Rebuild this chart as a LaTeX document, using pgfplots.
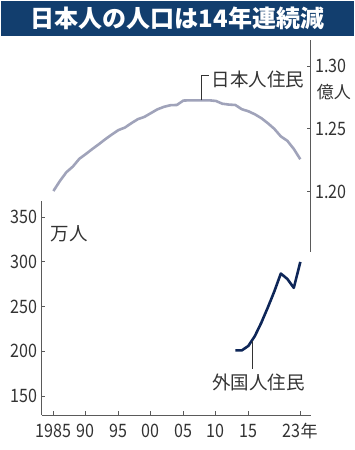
\documentclass[border=0pt]{standalone}
\usepackage{pgfplots}
\pgfplotsset{compat=1.18}
\usepackage{fontspec}
\setmainfont{Noto Sans CJK JP}
\newfontfamily\numf[FakeStretch=0.87]{Noto Sans CJK JP}
\definecolor{navy}{RGB}{18,62,110}
\definecolor{jline}{RGB}{160,163,186}
\definecolor{fline}{RGB}{14,38,88}
\definecolor{txt}{RGB}{51,51,51}
\definecolor{spine}{RGB}{90,90,90}
\pgfplotstableread{
year val
1985 1.2005
1986 1.2085
1987 1.2155
1988 1.2200
1989 1.2262
1990 1.2300
1991 1.2340
1992 1.2378
1993 1.2418
1994 1.2455
1995 1.2490
1996 1.2510
1997 1.2545
1998 1.2577
1999 1.2595
2000 1.2625
2001 1.2655
2002 1.2675
2003 1.2688
2004 1.2690
2005 1.2725
2006 1.2727
2007 1.2727
2008 1.2727
2009 1.2727
2010 1.2722
2011 1.2700
2012 1.2693
2013 1.2690
2014 1.2656
2015 1.2640
2016 1.2616
2017 1.2585
2018 1.2545
2019 1.2500
2020 1.2440
2021 1.2405
2022 1.2340
2023 1.2258
}\japan
\pgfplotstableread{
year val
2013 201
2014 201
2015 206
2016 217
2017 232
2018 249
2019 267
2020 287
2021 281
2022 271
2023 300
}\foreign
\newcommand{\tf}{\numf\fontsize{18.5}{19}\selectfont}
\newcommand{\lf}{\fontsize{18.5}{19}\selectfont}
\begin{document}
\begin{tikzpicture}[x=1pt,y=1pt]
\useasboundingbox (0,0) rectangle (355,450);
\fill[navy] (1,414) rectangle (354,449);
\node[text=white,font=\fontsize{24}{24}\selectfont\bfseries,inner sep=0pt] at (177.5,432) {日本人の人口は14年連続減};

\begin{axis}[
 at={(41.7pt,198pt)}, anchor=south west, scale only axis,
 width=269pt, height=212pt,
 xmin=1983.2, xmax=2024.6, ymin=1.152, ymax=1.3207,
 axis x line=none, axis y line*=right,
 ytick={1.20,1.25,1.30}, yticklabels={1.20,1.25,1.30},
 tick align=inside, major tick length=3.5pt,
 axis line style={spine, line width=0.9pt},
 tick style={spine, line width=0.9pt},
 yticklabel style={font=\tf, text=txt, inner sep=0pt, anchor=west, xshift=4.3pt},
 clip=false
]
\addplot[jline, line width=2.6pt, line join=round] table[x=year,y=val] {\japan};
\draw[txt, line width=0.9pt] (axis cs:2007.83,1.2727) -- (axis cs:2007.83,1.2928) -- (axis cs:2008.95,1.2928);
\end{axis}

\begin{axis}[
 at={(41.7pt,35pt)}, anchor=south west, scale only axis,
 width=269pt, height=214pt,
 xmin=1983.2, xmax=2024.6, ymin=128.7, ymax=368.2,
 axis x line*=bottom, axis y line*=left,
 xtick={1985,1990,1995,2000,2005,2010,2015,2023},
 xticklabels={1985,90,95,00,05,10,15,23{\rmfamily\fontsize{17}{18}\selectfont 年}},
 ytick={150,200,250,300,350}, yticklabels={150,200,250,300,350},
 tick align=inside, major tick length=3.5pt,
 axis line style={spine, line width=0.9pt},
 tick style={spine, line width=0.9pt},
 yticklabel style={font=\tf, text=txt, inner sep=0pt, anchor=east, xshift=-4.3pt},
 xticklabel style={font=\tf, text=txt, inner sep=0pt, anchor=base, yshift=-22.3pt},
 clip=false
]
\addplot[fline, line width=2.6pt, line join=round] table[x=year,y=val] {\foreign};
\draw[txt, line width=0.9pt] (axis cs:2015.7,212) -- (axis cs:2015.7,180.2);
\end{axis}

\node[anchor=west, inner sep=0pt, font=\lf, text=txt] at (211.7,370.7) {日本人住民};
\node[anchor=west, inner sep=0pt, font=\lf, text=txt] at (212,67.3) {外国人住民};
\node[anchor=west, inner sep=0pt, font=\lf, text=txt] at (50.7,216.7) {万人};
\node[anchor=west, inner sep=0pt, font=\fontsize{17}{18}\selectfont, text=txt] at (316.7,358.3) {億人};
\end{tikzpicture}
\end{document}
